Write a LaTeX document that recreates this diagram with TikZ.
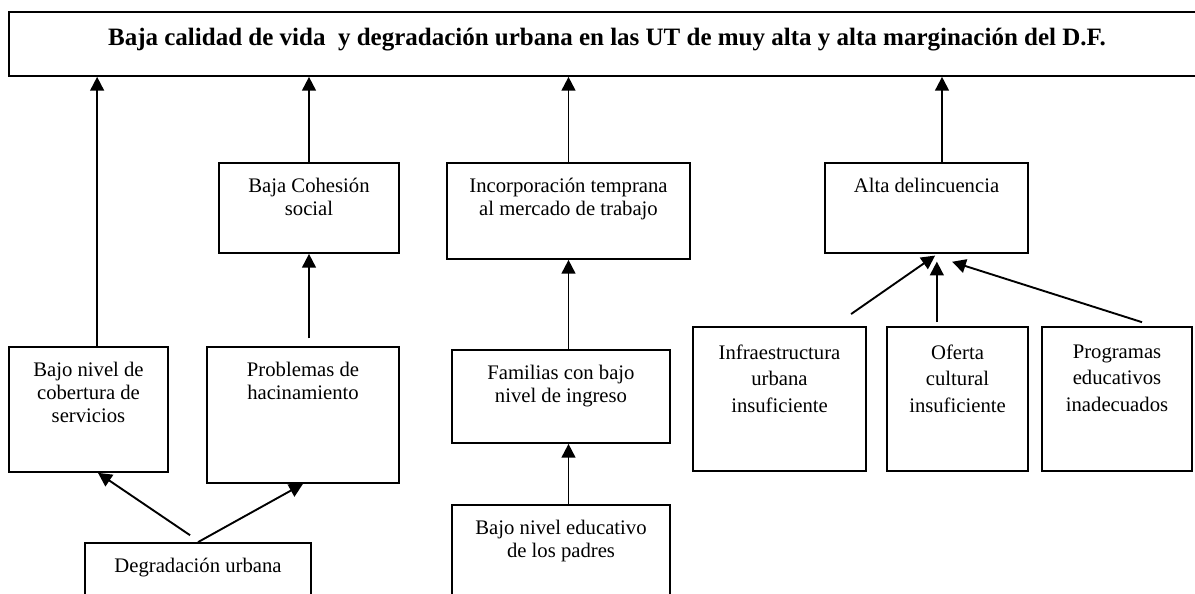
\documentclass[tikz,border=0pt]{standalone}
\usepackage{fontspec}
\setmainfont{Liberation Serif}
\usetikzlibrary{arrows.meta,fit,positioning}

\begin{document}
\begin{tikzpicture}[x=0.58pt,y=-0.58pt,
  caja/.style={draw,line width=1pt,inner sep=0pt},
  texto/.style={anchor=north,yshift=-9pt,align=center,inner sep=0pt,font=\fontsize{12}{13.5}\selectfont},
  texto3/.style={anchor=north,yshift=-10.5pt,align=center,inner sep=0pt,font=\fontsize{12}{15.5}\selectfont},
  titulo/.style={anchor=north,yshift=-9.5pt,inner sep=0pt,font=\fontsize{14.5}{16}\selectfont\bfseries},
  flecha/.style={line width=1.1pt,-{Triangle[length=8pt,width=8pt]}}]

\useasboundingbox (0,0) rectangle (1195,594);

% problema central
\node[caja,fit={(9,12) (1205,76)},label={[titulo]north:Baja calidad de vida~ y degradación urbana en las UT de muy alta y alta marginación del D.F.}] (top) {};

% causas
\node[caja,fit={(9,347) (168,472)},label={[texto]north:Bajo nivel de\\cobertura de\\servicios}] (cob) {};
\node[caja,fit={(219,163) (399,253)},label={[texto]north:Baja Cohesión\\social}] (coh) {};
\node[caja,fit={(207,347) (399,483)},label={[texto]north:Problemas de\\hacinamiento}] (hac) {};
\node[caja,fit={(85,543) (311,620)},label={[texto]north:Degradación urbana}] (deg) {};

\node[caja,fit={(447,163) (690,259)},label={[texto]north:Incorporación temprana\\al mercado de trabajo}] (inc) {};
\node[caja,fit={(452,350) (670,443)},label={[texto]north:Familias con bajo\\nivel de ingreso}] (fam) {};
\node[caja,fit={(452,505) (670,620)},label={[texto]north:Bajo nivel educativo\\de los padres}] (edu) {};

\node[caja,fit={(825,163) (1028,253)},label={[texto]north:Alta delincuencia}] (del) {};
\node[caja,fit={(693,327) (866,471)},label={[texto3]north:Infraestructura\\urbana\\insuficiente}] (inf) {};
\node[caja,fit={(887,327) (1028,471)},label={[texto3]north:Oferta\\cultural\\insuficiente}] (ofe) {};
\node[caja,fit={(1042,327) (1192,471)},label={[texto3]north:Programas\\educativos\\inadecuados}] (pro) {};

% flechas
\coordinate (c1) at ([xshift=5pt]cob.north);
\draw[flecha] (c1) -- (c1 |- top.south);
\draw[flecha] (coh.north) -- (coh.north |- top.south);
\draw[flecha,shorten <=4.5pt] (hac.north -| coh.south) -- (coh.south);
\draw[flecha] ([xshift=-4.6pt,yshift=4pt]deg.north) -- ([xshift=5.5pt]cob.south);
\draw[flecha] (deg.north) -- (hac.south);

\draw[flecha] (inc.north) -- (inc.north |- top.south);
\draw[flecha] (fam.north -| inc.south) -- (inc.south);
\draw[flecha] (edu.north -| inc.south) -- (fam.south -| inc.south);

\coordinate (c2) at ([xshift=9pt]del.north);
\draw[flecha] (c2) -- (c2 |- top.south);
\coordinate (c3) at ([xshift=6pt]del.south);
\draw[flecha] ([xshift=41.5pt,yshift=7pt]inf.north) -- ([xshift=5pt,yshift=-1pt]del.south);
\draw[flecha,shorten <=2.3pt,shorten >=4.5pt] (c3 |- ofe.north) -- (c3);
\draw[flecha] ([xshift=14.5pt,yshift=2.3pt]pro.north) -- ([xshift=14.8pt,yshift=-4.6pt]del.south);

\end{tikzpicture}
\end{document}
